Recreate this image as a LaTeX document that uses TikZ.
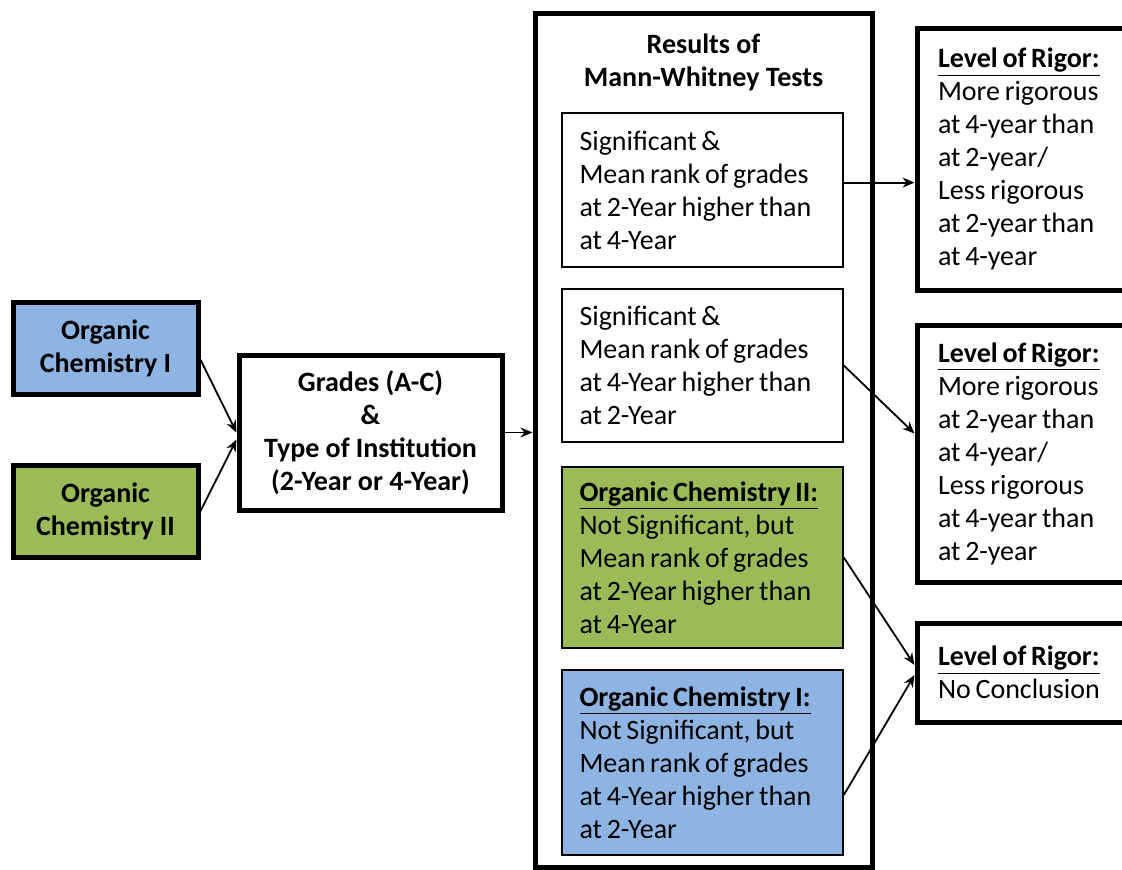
\documentclass[tikz,border=0pt]{standalone}
\usepackage{fontspec}
\setmainfont{Carlito}
\usetikzlibrary{arrows.meta}
\definecolor{ocblue}{RGB}{141,180,226}
\definecolor{ocgreen}{RGB}{155,187,89}
\newcommand{\boxfont}{\fontsize{14pt}{16.5pt}\selectfont}
\newcommand{\rigorhead}{\underline{\textbf{Level of Rigor:}}}
\tikzstyle{course} = [rectangle, draw=black, line width=2.5pt, minimum width=92.5pt, minimum height=46pt, align=center, font=\boxfont\bfseries]
\tikzstyle{result} = [rectangle, draw=black, line width=0.8pt, minimum width=140.5pt, text width=123pt, align=left, font=\boxfont, execute at begin node={\spaceskip=0.17em plus 0.05em\relax}]
\tikzstyle{rigor} = [rectangle, draw=black, line width=2.5pt, minimum width=111.5pt, text width=90.5pt, align=left, font=\boxfont, execute at begin node={\spaceskip=0.17em plus 0.05em\relax}]
\tikzstyle{flow} = [line width=0.9pt,-{Stealth[length=6pt,width=5pt]}]

\begin{document}
\begin{tikzpicture}[x=0.5pt,y=-0.5pt]
\useasboundingbox (0,0) rectangle (1122,869);
\clip (0,0) rectangle (1122,869);
% courses and grades
\node[course,fill=ocblue] (chem1) at (105.5,348) {Organic\\Chemistry I};
\node[course,fill=ocgreen] (chem2) at (105.5,511) {Organic\\Chemistry II};
\node[rectangle,draw=black,line width=2.5pt,minimum width=131.5pt,minimum height=77.5pt,align=center,font=\boxfont\bfseries] (grades) at (370.5,432.5) {Grades (A-C)\\\&\\Type of Institution\\(2-Year or 4-Year)};
% results of the tests
\node[rectangle,draw=black,line width=2.5pt,minimum width=168.5pt,minimum height=427pt] (tests) at (703.5,440) {};
\node[align=center,font=\boxfont\bfseries] (teststitle) at (703.5,62) {Results of\\Mann-Whitney Tests};
\node[result,minimum height=77pt] (sig1) at (702.5,190) {Significant \&\\Mean rank of grades\\at 2-Year higher than\\at 4-Year};
\node[result,minimum height=76.5pt] (sig2) at (702.5,365.5) {Significant \&\\Mean rank of grades\\at 4-Year higher than\\at 2-Year};
\node[result,fill=ocgreen,minimum height=90.5pt] (ns2) at (702.5,557.5) {\underline{\textbf{Organic Chemistry II:}}\\Not Significant, but\\Mean rank of grades\\at 2-Year higher than\\at 4-Year};
\node[result,fill=ocblue,minimum height=92.5pt] (ns1) at (702.5,762.5) {\underline{\textbf{Organic Chemistry I:}}\\Not Significant, but\\Mean rank of grades\\at 4-Year higher than\\at 2-Year};
% level of rigor
\node[rigor,minimum height=131pt] (rigor1) at (1028.5,159) {\rigorhead\\More rigorous\\at 4-year than\\at 2-year/\\Less rigorous\\at 2-year than\\at 4-year};
\node[rigor,minimum height=128.5pt] (rigor2) at (1028.5,453.5) {\rigorhead\\More rigorous\\at 2-year than\\at 4-year/\\Less rigorous\\at 4-year than\\at 2-year};
\node[rigor,minimum height=49.5pt] (rigor3) at (1028.5,672.5) {\rigorhead\\No Conclusion};
% arrows
\draw[flow] (chem1.353) -- (grades.180);
\draw[flow] (chem2.east) -- (grades.183);
\draw[flow] (grades.east) -- (grades.east -| tests.west);
\draw[flow] (sig1.3) -- (sig1.3 -| rigor1.west);
\draw[flow] (sig2.east) -- ([yshift=10pt]rigor2.west);
\draw[flow] (ns2.east) -- ([yshift=3.75pt]rigor3.west);
\draw[flow] ([yshift=-16.25pt]ns1.east) -- ([yshift=-1.25pt]rigor3.west);
\end{tikzpicture}
\end{document}
